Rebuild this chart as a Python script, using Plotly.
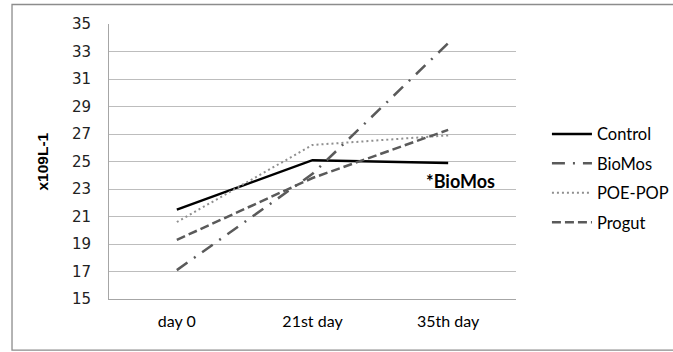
import plotly.graph_objects as go

categories = ["day 0", "21st day", "35th day"]
control = [21.5, 25.1, 24.9]
biomos = [17.1, 24.1, 33.6]
poepop = [20.6, 26.2, 26.9]
progut = [19.3, 23.8, 27.3]
y_ticks = list(range(15, 36, 2))

fig = go.Figure()
fig.add_trace(go.Scatter(x=categories, y=control, name="Control", mode="lines",
                         line=dict(color="black", width=2.5), legendgroup="a"))
fig.add_trace(go.Scatter(x=categories, y=biomos, name="BioMos", mode="lines",
                         line=dict(color="#5a5a5a", width=2.5, dash="13px,8px,2px,8px"), legendgroup="b"))
fig.add_trace(go.Scatter(x=categories, y=poepop, name="POE-POP", mode="lines",
                         line=dict(color="#8f8f8f", width=2, dash="2px,3px"), legendgroup="c"))
fig.add_trace(go.Scatter(x=categories, y=progut, name="Progut", mode="lines",
                         line=dict(color="#5a5a5a", width=2.5, dash="9px,4px"), legendgroup="d"))

fig.add_annotation(x="35th day", y=23.55, text="<b>*BioMos</b>", showarrow=False,
                   xshift=12, font=dict(family="Lato", size=18, color="black"))

# y axis title
fig.add_annotation(xref="paper", yref="paper", x=-0.1646, y=0.5, text="<b>x109L-1</b>",
                   textangle=-90, showarrow=False, xanchor="center", yanchor="middle",
                   font=dict(family="Liberation Sans", size=15.5, color="black"))

# outer chart border
fig.add_shape(type="rect", xref="paper", yref="paper", x0=-0.2383, x1=1.5, y0=-0.1858, y1=1.071,
              line=dict(color="#8c8c8c", width=1.3), fillcolor="rgba(0,0,0,0)", layer="below")

fig.update_layout(
    width=673, height=352,
    margin=dict(l=109, r=157, t=24, b=53, autoexpand=False),
    paper_bgcolor="white", plot_bgcolor="white",
    showlegend=True,
    legend=dict(x=1.076, y=0.663, xanchor="left", yanchor="top", tracegroupgap=5,
                font=dict(family="Lato", size=16.5, color="black"), bgcolor="rgba(0,0,0,0)",
                itemwidth=40),
    xaxis=dict(type="category", categoryorder="array", categoryarray=categories,
               showgrid=False, showline=True, linecolor="#a6a6a6", linewidth=1,
               ticks="", tickfont=dict(family="Lato", size=16, color="black"),
               range=[-0.5, 2.5], ticklabelstandoff=8, automargin=False),
    yaxis=dict(range=[15, 35], tickvals=y_ticks, showgrid=True, gridcolor="#bdbdbd", gridwidth=1,
               showline=True, linecolor="#a6a6a6", linewidth=1, ticks="", zeroline=False,
               tickfont=dict(family="DejaVu Sans", size=15, color="#222"), ticklabelstandoff=14,
               automargin=False),
)

fig.write_html("out.html")
